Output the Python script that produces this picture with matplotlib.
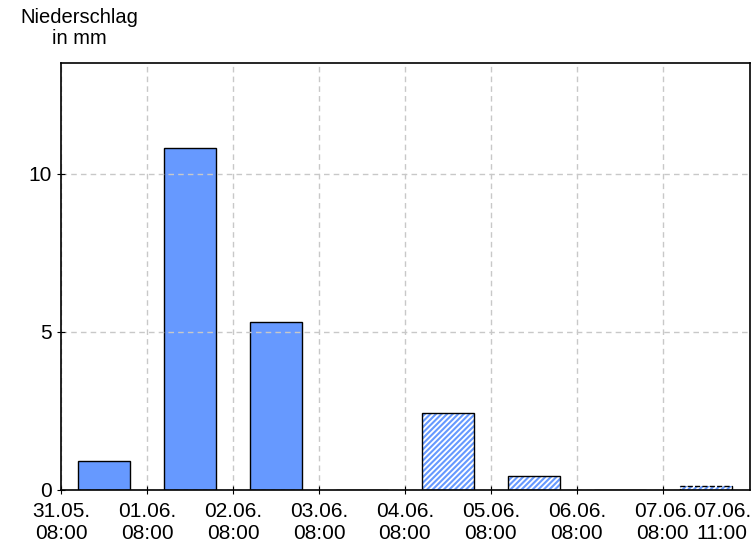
import matplotlib
matplotlib.use('Agg')
import matplotlib.pyplot as plt

plt.rcParams['font.family'] = ['Liberation Sans', 'DejaVu Sans']
plt.rcParams['hatch.linewidth'] = 1.5

# Tageswerte (Tag ab 31.05. 08:00)
days = [0.5, 1.5, 2.5, 3.5, 4.5, 5.5, 6.5, 7.5]
measured = [0.92, 10.82, 5.32, 0, 0, 0, 0, 0]
forecast = [0, 0, 0, 0, 2.44, 0.44, 0, 0.12]
tick_labels = ['31.05.\n08:00', '01.06.\n08:00', '02.06.\n08:00', '03.06.\n08:00',
               '04.06.\n08:00', '05.06.\n08:00', '06.06.\n08:00', '07.06.\n08:00']
last_label = '07.06.\n11:00'

fig = plt.figure(figsize=(7.56, 5.46), dpi=100)
ax = fig.add_axes([0.0807, 0.1026, 0.911, 0.782])

blue = '#6699ff'
w = 0.6
ax.bar(days, measured, width=w, color=blue, edgecolor='black', linewidth=1, zorder=1)
# Prognose: schraffiert
ax.bar(days, forecast, width=w, color='white', edgecolor=blue, hatch='//////', linewidth=0, zorder=1)
for d, v in zip(days, forecast):
    if v <= 0:
        continue
    ls = '--' if v < 0.2 else '-'
    ax.bar(d, v, width=w, fill=False, edgecolor='black', linewidth=1, linestyle=ls, zorder=1.1)

ax.set_xlim(0, 8.01)
ax.set_ylim(0, 13.5)
ax.set_xticks(range(8))
ax.set_xticklabels(tick_labels, fontsize=15, linespacing=1.15)
ax.set_xticks([7.69], minor=True)
ax.set_xticklabels([last_label], minor=True, fontsize=15, linespacing=1.15)
ax.set_yticks([0, 5, 10])
ax.set_yticklabels(['0', '5', '10'], fontsize=15)
ax.tick_params(axis='y', direction='inout', length=6)
ax.tick_params(axis='x', which='major', direction='inout', length=6, pad=6)
ax.tick_params(axis='x', which='minor', length=0, pad=9)

ax.grid(True, color='#c8c8c8', linestyle=(0, (4, 3)), linewidth=1, zorder=2)
ax.set_axisbelow(False)
for s in ax.spines.values():
    s.set_linewidth(1.2)
    s.set_zorder(3)

fig.text(0.105, 0.985, 'Niederschlag\nin mm', fontsize=14.5, ha='center', va='top', linespacing=1.1)

fig.savefig('out.png', dpi=100)
